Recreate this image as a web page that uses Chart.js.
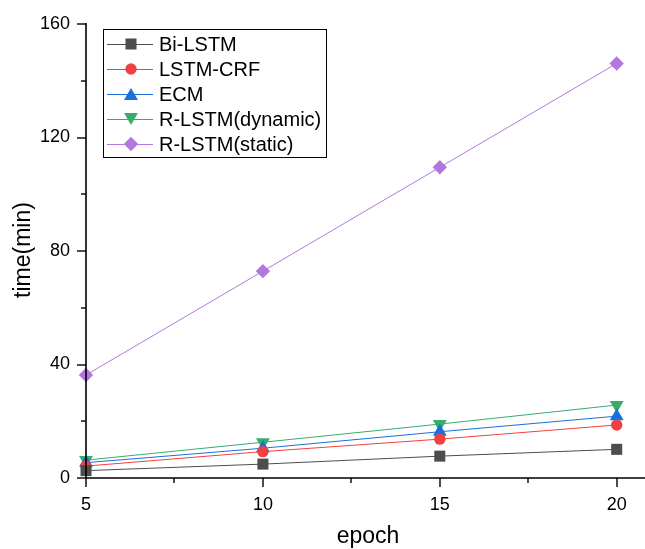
<!DOCTYPE html>
<html><head><meta charset="utf-8">
<script src="https://cdn.jsdelivr.net/npm/chart.js@4"></script>
<style>html,body{margin:0;padding:0;background:#fff}#w{width:645px;height:549px}</style>
</head><body><div id="w"><canvas id="c" width="645" height="549"></canvas></div>
<script>
const epochs = [5, 10, 15, 20];
const biLSTM = [2.6, 4.9, 7.7, 10.1];
const lstmCRF = [4.2, 9.3, 13.7, 18.7];
const ecm = [5.4, 10.5, 16.3, 21.8];
const rlstmDynamic = [6.3, 12.6, 19.0, 25.7];
const rlstmStatic = [36.3, 72.9, 109.5, 146.1];
const seriesNames = ['Bi-LSTM', 'LSTM-CRF', 'ECM', 'R-LSTM(dynamic)', 'R-LSTM(static)'];
const yTicks = [0, 40, 80, 120, 160];
const xTicks = [5, 10, 15, 20];
const xTitle = 'epoch';
const yTitle = 'time(min)';

const colors = ['#4d4d4d', '#f14040', '#1a6fdf', '#37ad6b', '#b177de'];
const styles = ['rect', 'circle', 'triangle', 'triangle', 'rectRot'];
const rots = [0, 0, 0, 180, 0];
const radii = [7.8, 5.7, 8, 8, 7.2];
const allData = [biLSTM, lstmCRF, ecm, rlstmDynamic, rlstmStatic];

const datasets = allData.map((d, i) => ({
  label: seriesNames[i],
  data: d.map((v, j) => ({x: epochs[j], y: v})),
  borderColor: colors[i],
  backgroundColor: colors[i],
  borderWidth: 1,
  pointStyle: styles[i],
  rotation: rots[i],
  pointRadius: radii[i],
  pointBorderWidth: 0,
  pointHoverRadius: radii[i],
  tension: 0,
  clip: false
}));

const font = 'Liberation Sans, Arial, sans-serif';

const decor = {
  id: 'decor',
  afterDraw(chart) {
    const ctx = chart.ctx;
    const xs = chart.scales.x, ys = chart.scales.y;
    const ca = chart.chartArea;
    ctx.save();
    ctx.strokeStyle = '#000';
    ctx.lineWidth = 1.6;
    ctx.beginPath();
    ctx.moveTo(ca.left, ys.getPixelForValue(160) - 1);
    ctx.lineTo(ca.left, ca.bottom);
    ctx.lineTo(ca.right, ca.bottom);
    ctx.stroke();
    ctx.lineWidth = 1.4;
    xTicks.forEach(v => {
      const px = Math.round(xs.getPixelForValue(v));
      ctx.beginPath(); ctx.moveTo(px, ca.bottom); ctx.lineTo(px, ca.bottom + 9); ctx.stroke();
    });
    [7.5, 12.5, 17.5].forEach(v => {
      const px = Math.round(xs.getPixelForValue(v));
      ctx.beginPath(); ctx.moveTo(px, ca.bottom); ctx.lineTo(px, ca.bottom + 5); ctx.stroke();
    });
    yTicks.forEach(v => {
      const py = Math.round(ys.getPixelForValue(v));
      ctx.beginPath(); ctx.moveTo(ca.left, py); ctx.lineTo(ca.left - 9, py); ctx.stroke();
    });
    [20, 60, 100, 140].forEach(v => {
      const py = Math.round(ys.getPixelForValue(v));
      ctx.beginPath(); ctx.moveTo(ca.left, py); ctx.lineTo(ca.left - 5, py); ctx.stroke();
    });
    ctx.fillStyle = '#000';
    ctx.font = '23px ' + font;
    ctx.textAlign = 'center';
    ctx.textBaseline = 'alphabetic';
    ctx.fillText(xTitle, 368, 543);
    ctx.save();
    ctx.translate(30, 250);
    ctx.rotate(-Math.PI / 2);
    ctx.fillText(yTitle, 0, 0);
    ctx.restore();
    const lx = 103, ly = 29, lw = 223, lh = 128;
    ctx.lineWidth = 1;
    ctx.strokeStyle = '#000';
    ctx.fillStyle = '#fff';
    ctx.fillRect(lx + 0.5, ly + 0.5, lw, lh);
    ctx.strokeRect(lx + 0.5, ly + 0.5, lw, lh);
    ctx.font = '20px ' + font;
    ctx.textAlign = 'left';
    ctx.textBaseline = 'middle';
    seriesNames.forEach((n, i) => {
      const cy = ly + 15 + i * 25;
      ctx.strokeStyle = colors[i];
      ctx.lineWidth = 1;
      ctx.beginPath(); ctx.moveTo(lx + 4, cy + 0.5); ctx.lineTo(lx + 50, cy + 0.5); ctx.stroke();
      ctx.fillStyle = colors[i];
      Chart.helpers.drawPoint(ctx, {pointStyle: styles[i], rotation: rots[i], radius: radii[i], borderWidth: 0}, lx + 28, cy + (i === 2 ? 2 : (i === 3 ? -2 : 0)));
      ctx.fillStyle = '#000';
      ctx.fillText(n, lx + 56, cy + 1);
    });
    ctx.restore();
  }
};

new Chart(document.getElementById('c'), {
  type: 'line',
  data: { datasets },
  options: {
    responsive: false,
    animation: false,
    layout: { autoPadding: false, padding: { top: 24, right: 0, left: 0, bottom: 0 } },
    plugins: { legend: { display: false }, tooltip: { enabled: false } },
    scales: {
      x: {
        type: 'linear', min: 5, max: 20.8,
        afterFit(s) { s.height = 71; s.paddingRight = 0; s.paddingLeft = 0; },
        afterBuildTicks(s) { s.ticks = xTicks.map(v => ({value: v})); },
        grid: { display: false, drawTicks: false },
        border: { display: false },
        ticks: { color: '#000', font: { family: font, size: 18 }, padding: 16, maxRotation: 0 },
        title: { display: false }
      },
      y: {
        type: 'linear', min: 0, max: 160,
        afterFit(s) { s.width = 86; s.paddingTop = 0; s.paddingBottom = 0; },
        afterBuildTicks(s) { s.ticks = yTicks.map(v => ({value: v})); },
        grid: { display: false, drawTicks: false },
        border: { display: false },
        ticks: { color: '#000', font: { family: font, size: 18 }, padding: 16 },
        title: { display: false }
      }
    }
  },
  plugins: [decor]
});
</script>
</body></html>
